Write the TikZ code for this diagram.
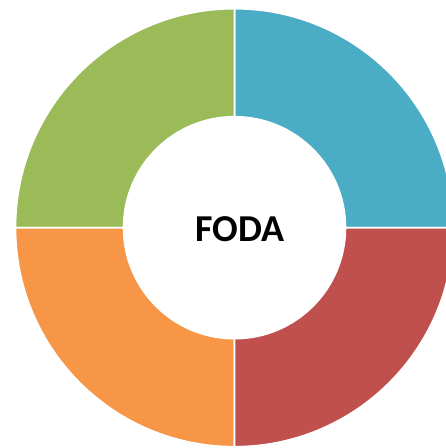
\documentclass[tikz,border=0pt]{standalone}
\usepackage{fontspec}
\setmainfont{Carlito}
\definecolor{sgreen}{HTML}{9BBB59}
\definecolor{sblue}{HTML}{4BACC6}
\definecolor{sred}{HTML}{C0504D}
\definecolor{sorange}{HTML}{F79646}
\begin{document}
\begin{tikzpicture}[x=1pt,y=1pt,
  sector/.style={draw=white,line width=1.6pt,line join=miter}]
\useasboundingbox (0,-448) rectangle (446,0);
\clip (0,-448) rectangle (446,0);
\coordinate (c) at (234.5,-227.7);
\def\Ro{219}\def\Ri{111}
\fill[sblue,sector] ([shift={(0:\Ri)}]c) -- ([shift={(0:\Ro)}]c) arc[start angle=0,end angle=90,radius=\Ro] -- ([shift={(90:\Ri)}]c) arc[start angle=90,end angle=0,radius=\Ri] -- cycle;
\fill[sgreen,sector] ([shift={(90:\Ri)}]c) -- ([shift={(90:\Ro)}]c) arc[start angle=90,end angle=180,radius=\Ro] -- ([shift={(180:\Ri)}]c) arc[start angle=180,end angle=90,radius=\Ri] -- cycle;
\fill[sorange,sector] ([shift={(180:\Ri)}]c) -- ([shift={(180:\Ro)}]c) arc[start angle=180,end angle=270,radius=\Ro] -- ([shift={(270:\Ri)}]c) arc[start angle=270,end angle=180,radius=\Ri] -- cycle;
\fill[sred,sector] ([shift={(270:\Ri)}]c) -- ([shift={(270:\Ro)}]c) arc[start angle=270,end angle=360,radius=\Ro] -- ([shift={(0:\Ri)}]c) arc[start angle=360,end angle=270,radius=\Ri] -- cycle;
\node (title) at (240,-229.5) {\fontsize{38}{40}\selectfont\bfseries FODA};
\end{tikzpicture}
\end{document}
